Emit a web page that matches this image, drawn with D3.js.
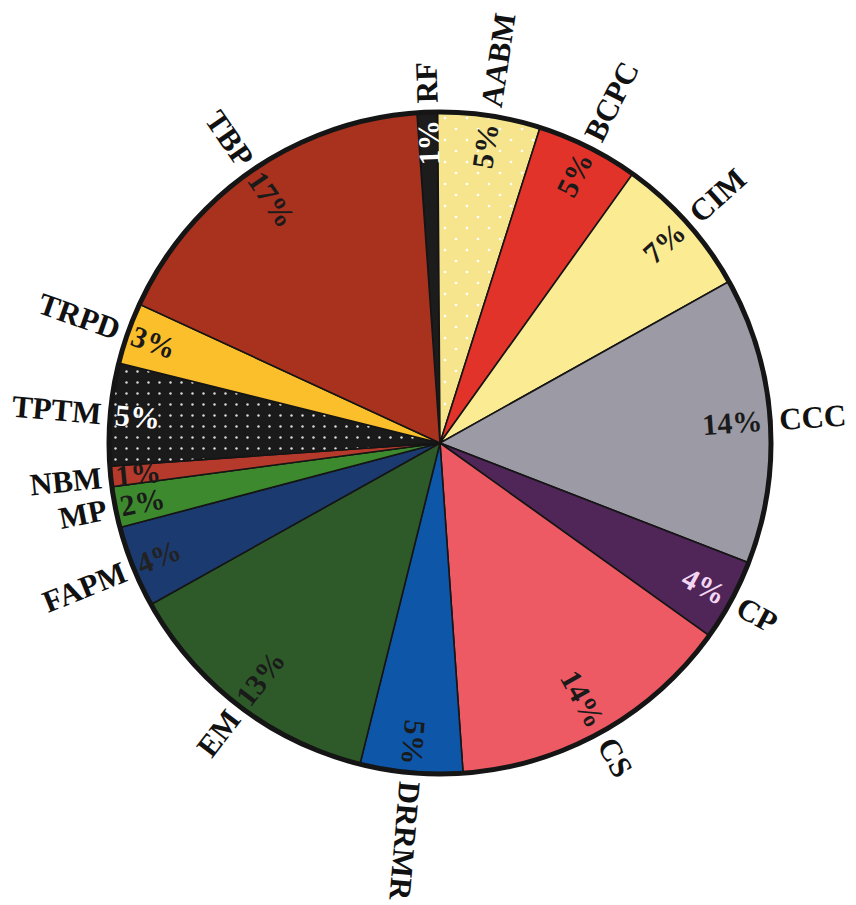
<!DOCTYPE html>
<html>
<head>
<meta charset="utf-8">
<script src="https://cdnjs.cloudflare.com/ajax/libs/d3/7.8.5/d3.min.js"></script>
<style>
  body { margin: 0; background: #fff; }
</style>
</head>
<body>
<svg width="856" height="905"></svg>
<script>
// categories clockwise from the top, with their shares (%)
var categories = ["RF", "AABM", "BCPC", "CIM", "CCC", "CP", "CS", "DRRMR", "EM", "FAPM", "MP", "NBM", "TPTM", "TRPD", "TBP"];
var shares     = [1, 5, 5, 7, 14, 4, 14, 5, 13, 4, 2, 1, 5, 3, 17];
var fills      = ["#1c1c1c", "url(#dotsYellow)", "#e2332a", "#fbeb92", "#9c9aa5", "#4f2657", "#ee5a64", "#0d56a8",
                  "#2e5a2a", "#1b3b70", "#3d8a2e", "#b63a2c", "url(#dotsBlack)", "#fbbf2c", "#a9321f"];
var pctColors  = ["#fff", "#1a1a1a", "#1a1a1a", "#1a1a1a", "#1a1a1a", "#f3d6f3", "#1a1a1a", "#1a1a1a",
                  "#1a1a1a", "#222", "#1a1a1a", "#1a1a1a", "#fff", "#1a1a1a", "#1a1a1a"];

var svg = d3.select("svg"),
    cx = 440, cy = 443, r = 331,
    font = "'Liberation Serif', 'Times New Roman', Times, serif";

var data = categories.map(function(c, i) {
  return { name: c, value: shares[i], fill: fills[i], pctColor: pctColors[i] };
});

// dot patterns
var defs = svg.append("defs");
var p1 = defs.append("pattern").attr("id", "dotsYellow")
    .attr("patternUnits", "userSpaceOnUse").attr("width", 22).attr("height", 22);
p1.append("rect").attr("width", 22).attr("height", 22).attr("fill", "#f6e58c");
p1.append("circle").attr("cx", 5).attr("cy", 5).attr("r", 1.3).attr("fill", "#fff");
p1.append("circle").attr("cx", 16).attr("cy", 16).attr("r", 1.3).attr("fill", "#fff");

var p2 = defs.append("pattern").attr("id", "dotsBlack")
    .attr("patternUnits", "userSpaceOnUse").attr("width", 11).attr("height", 11);
p2.append("rect").attr("width", 11).attr("height", 11).attr("fill", "#1a1a1a");
p2.append("circle").attr("cx", 5.5).attr("cy", 5.5).attr("r", 1.2).attr("fill", "#ddd");

var start = -4 * Math.PI / 180;
var pie = d3.pie().sort(null).value(function(d) { return d.value; })
    .startAngle(start).endAngle(start + 2 * Math.PI);
var arc = d3.arc().innerRadius(0).outerRadius(r);
var arcs = pie(data);

var g = svg.append("g").attr("transform", "translate(" + cx + "," + cy + ")");

g.selectAll("path.slice")
  .data(arcs)
  .enter().append("path")
    .attr("class", "slice")
    .attr("d", arc)
    .attr("fill", function(d) { return d.data.fill; })
    .attr("stroke", "#151515")
    .attr("stroke-width", 1.6);

g.append("circle")
    .attr("r", r)
    .attr("fill", "none")
    .attr("stroke", "#151515")
    .attr("stroke-width", 5);

function mid(d) { return (d.startAngle + d.endAngle) / 2; }
function outward(d) {
  var deg = mid(d) * 180 / Math.PI;
  return deg < 200;
}
function place(d, rad) {
  var a = mid(d), deg = a * 180 / Math.PI;
  var rot = outward(d) ? deg - 90 : deg + 90;
  return "translate(" + (rad * Math.sin(a)) + "," + (-rad * Math.cos(a)) + ") rotate(" + rot + ")";
}

// category names outside the rim
g.selectAll("text.name")
  .data(arcs)
  .enter().append("text")
    .attr("class", "name")
    .attr("transform", function(d) { return place(d, r + 9); })
    .attr("text-anchor", function(d) { return outward(d) ? "start" : "end"; })
    .attr("dy", "0.35em")
    .attr("font-family", font)
    .attr("font-weight", "bold")
    .attr("font-size", 31)
    .attr("fill", "#111")
    .text(function(d) { return d.data.name; });

// percentages inside the rim
g.selectAll("text.pct")
  .data(arcs)
  .enter().append("text")
    .attr("class", "pct")
    .attr("transform", function(d) { return place(d, outward(d) ? r - 8 : r - 5); })
    .attr("text-anchor", function(d) { return outward(d) ? "end" : "start"; })
    .attr("dy", "0.35em")
    .attr("font-family", font)
    .attr("font-weight", "bold")
    .attr("font-size", 30)
    .attr("fill", function(d) { return d.data.pctColor; })
    .text(function(d) { return d.data.value + "%"; });
</script>
</body>
</html>
